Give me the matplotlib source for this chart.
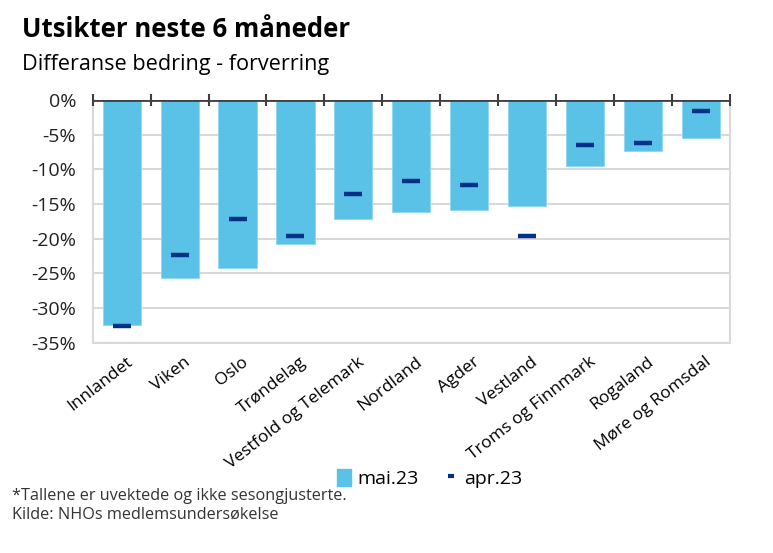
import matplotlib.pyplot as plt
import numpy as np
from matplotlib.ticker import FuncFormatter
from matplotlib.lines import Line2D
from matplotlib.patches import Patch

# data
regions = ['Innlandet', 'Viken', 'Oslo', 'Trøndelag', 'Vestfold og Telemark',
           'Nordland', 'Agder', 'Vestland', 'Troms og Finnmark', 'Rogaland',
           'Møre og Romsdal']
mai23 = [-32.4, -25.7, -24.2, -20.8, -17.1, -16.2, -15.9, -15.3, -9.5, -7.3, -5.5]
apr23 = [-32.5, -22.3, -17.1, -19.6, -13.5, -11.7, -12.3, -19.6, -6.5, -6.2, -1.6]
yticks = [0, -5, -10, -15, -20, -25, -30, -35]

plt.rcParams['font.family'] = ['Open Sans', 'DejaVu Sans']

fig = plt.figure(figsize=(7.73, 5.53), dpi=100)
ax = fig.add_axes([0.120, 0.380, 0.824, 0.439])

x = np.arange(len(regions))
ax.bar(x, mai23, width=0.66, color='#5BC2E7', edgecolor='#8fd6f0', linewidth=0.6, zorder=2)
ax.plot(x, apr23, linestyle='none', marker='_', markersize=12.5, markeredgewidth=3.2,
        color='#003087', zorder=3)

ax.set_xlim(-0.5, len(regions) - 0.5)
ax.set_ylim(-35, 0)
ax.set_yticks(yticks)
ax.yaxis.set_major_formatter(FuncFormatter(lambda v, p: f'{v:.0f}%'))
ax.tick_params(axis='y', length=0, pad=12, labelsize=14, labelcolor='#222222')
ax.set_xticks(x + 0.07)
ax.set_xticklabels(regions, rotation=38, ha='right', rotation_mode='anchor', fontsize=12.5)
ax.tick_params(axis='x', length=0, pad=8)

ax.grid(axis='y', color='#d9d9d9', linewidth=1.5, zorder=0)
for s in ['left', 'right', 'bottom']:
    ax.spines[s].set_color('#d9d9d9')
    ax.spines[s].set_linewidth(1.5)
ax.spines['top'].set_visible(False)

# dark zero line with category boundary ticks
ax.axhline(0, color='#404040', linewidth=2, zorder=4)
bounds = np.arange(len(regions) + 1) - 0.5
ax.vlines(bounds, -0.9, 0.9, color='#404040', linewidth=1.5, clip_on=False, zorder=4)

fig.text(0.028, 0.933, 'Utsikter neste 6 måneder', fontsize=18.5, fontweight='bold')
fig.text(0.028, 0.873, 'Differanse bedring - forverring', fontsize=15.6)

handles = [Patch(color='#5BC2E7'),
           Line2D([], [], linestyle='none', marker='_', markersize=4.5, markeredgewidth=3,
                  color='#003087')]
fig.legend(handles, ['mai.23', 'apr.23'], loc='center', bbox_to_anchor=(0.556, 0.135),
           ncol=2, frameon=False, fontsize=14, handlelength=0.7, handleheight=0.95,
           handletextpad=0.35, columnspacing=1.3)

fig.text(0.015, 0.095, '*Tallene er uvektede og ikke sesongjusterte.', fontsize=11.7,
         color='#333333')
fig.text(0.015, 0.062, 'Kilde: NHOs medlemsundersøkelse', fontsize=11.7, color='#333333')

fig.savefig('out.png', dpi=100)
